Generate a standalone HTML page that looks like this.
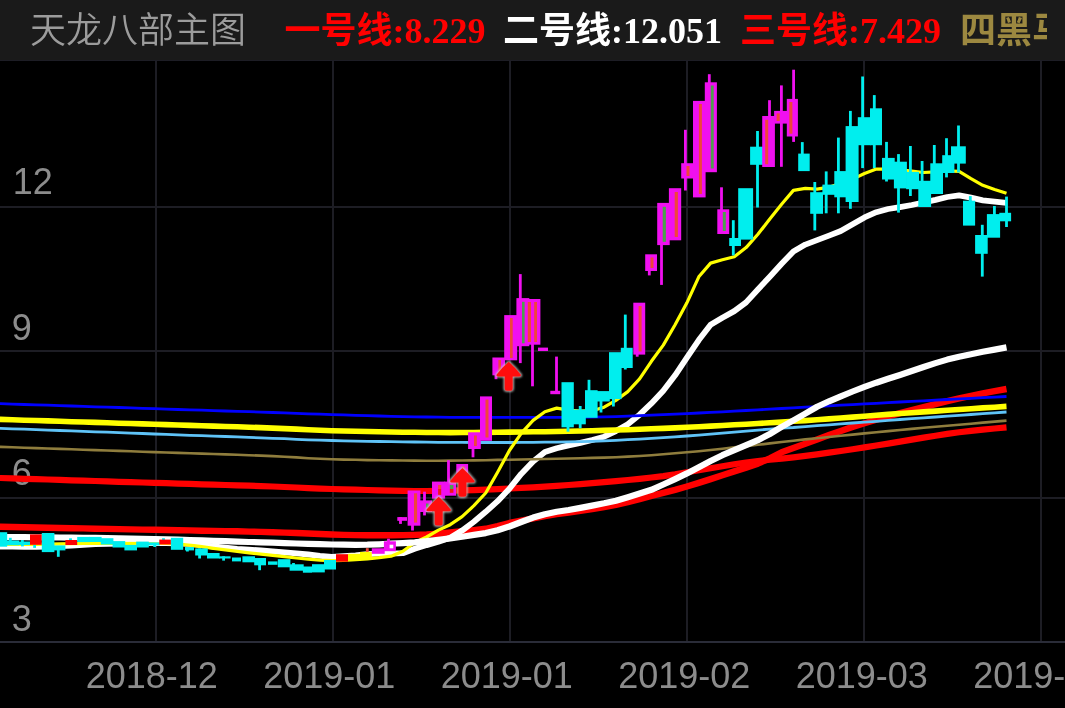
<!DOCTYPE html>
<html lang="zh-CN">
<head>
<meta charset="utf-8">
<title>天龙八部主图</title>
<style>
html,body{margin:0;padding:0;background:#000;}
body{width:1065px;height:708px;overflow:hidden;position:relative;font-family:"Liberation Sans","Noto Sans CJK SC",sans-serif;}
.chart{position:absolute;left:0;top:0;display:block;}
.ax{font-family:"Liberation Sans","Noto Sans CJK SC",sans-serif;font-size:36px;fill:#8c8c8c;}
.hdr{position:absolute;left:0;top:0;width:1065px;height:60px;background:#1a1a1a;border-bottom:1px solid #1d1d25;overflow:hidden;}
.hdr .clip{position:absolute;left:0;top:0;width:1047px;height:60px;overflow:hidden;}
.hdr span{position:absolute;top:1px;height:60px;line-height:60px;white-space:nowrap;font-size:36px;}
.t0{left:30px;top:1px !important;color:#9c9c9c;font-family:"Liberation Sans","Noto Sans CJK SC",sans-serif;font-weight:350;}
.tb{font-family:"Liberation Serif","Noto Sans CJK SC",serif;font-weight:bold;}
.t1{left:284.5px;color:#ff0000;}
.t2{left:503px;color:#ffffff;}
.t3{left:740px;color:#ff0000;}
.t4{left:960px;color:#9c8840;}
</style>
</head>
<body>
<svg class="chart" width="1065" height="708" viewBox="0 0 1065 708">
<defs><filter id="soft" x="-20%" y="-20%" width="140%" height="140%"><feGaussianBlur stdDeviation="0.7"/></filter><filter id="soft2" x="-20%" y="-20%" width="140%" height="140%"><feGaussianBlur stdDeviation="0.8"/></filter><clipPath id="plot"><rect x="0" y="61" width="1065" height="580"/></clipPath></defs>
<rect x="155" y="61" width="2" height="580" fill="#1d1d24"/>
<rect x="332" y="61" width="2" height="580" fill="#1d1d24"/>
<rect x="509" y="61" width="2" height="580" fill="#1d1d24"/>
<rect x="686" y="61" width="2" height="580" fill="#1d1d24"/>
<rect x="863" y="61" width="2" height="580" fill="#1d1d24"/>
<rect x="1040" y="61" width="2" height="580" fill="#1d1d24"/>
<rect x="0" y="206" width="1065" height="2" fill="#1d1d24"/>
<rect x="0" y="350" width="1065" height="2" fill="#1d1d24"/>
<rect x="0" y="497" width="1065" height="2" fill="#1d1d24"/>
<rect x="0" y="641" width="1065" height="2" fill="#2a2c38"/>
<text class="ax" x="12.8" y="194.0">12</text>
<text class="ax" x="11.7" y="339.8">9</text>
<text class="ax" x="11.7" y="485.3">6</text>
<text class="ax" x="11.7" y="630.6">3</text>
<g clip-path="url(#plot)">
<path d="M-11.3 526.6L0.5 526.8L12.3 527.0L24.2 527.3L36.0 527.5L47.8 527.7L59.7 528.0L71.5 528.2L83.3 528.4L95.2 528.7L107.0 528.9L118.9 529.1L130.7 529.4L142.5 529.6L154.4 529.8L166.2 530.0L178.0 530.2L189.9 530.4L201.7 530.7L213.5 530.9L225.4 531.1L237.2 531.3L249.0 531.6L260.9 531.9L272.7 532.2L284.5 532.6L296.4 533.0L308.2 533.5L320.0 534.0L331.9 534.5L343.7 534.9L355.6 535.1L367.4 535.2L379.2 535.3L391.1 535.2L402.9 535.1L414.7 534.9L426.6 534.5L438.4 533.7L450.2 532.5L462.1 531.3L473.9 530.1L485.7 528.8L497.6 526.1L509.4 523.0L521.2 520.7L533.1 518.4L544.9 516.1L556.7 514.2L568.6 512.6L580.4 510.9L592.2 509.1L604.1 507.1L615.9 504.9L627.8 502.2L639.6 499.1L651.4 495.8L663.3 492.8L675.1 489.8L686.9 486.5L698.8 482.9L710.6 479.1L722.4 475.2L734.3 471.4L746.1 467.6L757.9 463.6L769.8 458.3L781.6 452.3L793.4 448.0L805.3 443.8L817.1 439.4L829.0 435.1L840.8 430.9L852.6 426.9L864.5 423.2L876.3 419.7L888.1 416.4L900.0 413.2L911.8 410.1L923.6 407.1L935.5 404.1L947.3 401.2L959.1 398.4L971.0 395.8L982.8 393.4L994.6 391.2L1006.5 389.0" fill="none" stroke="#ff0000" stroke-width="6.4" stroke-linejoin="round" stroke-linecap="butt"/>
<path d="M-11.3 477.6L0.5 478.0L12.3 478.4L24.2 478.8L36.0 479.1L47.8 479.5L59.7 479.9L71.5 480.3L83.3 480.6L95.2 481.0L107.0 481.4L118.9 481.8L130.7 482.1L142.5 482.5L154.4 482.9L166.2 483.2L178.0 483.6L189.9 483.9L201.7 484.3L213.5 484.6L225.4 485.0L237.2 485.4L249.0 485.7L260.9 486.1L272.7 486.5L284.5 487.0L296.4 487.5L308.2 488.1L320.0 488.6L331.9 489.0L343.7 489.3L355.6 489.7L367.4 490.0L379.2 490.3L391.1 490.6L402.9 490.8L414.7 491.0L426.6 491.0L438.4 490.9L450.2 490.7L462.1 490.4L473.9 490.1L485.7 489.6L497.6 489.1L509.4 488.5L521.2 487.9L533.1 487.3L544.9 486.6L556.7 485.8L568.6 485.0L580.4 484.1L592.2 483.1L604.1 482.2L615.9 481.1L627.8 480.0L639.6 478.8L651.4 477.5L663.3 476.1L675.1 474.3L686.9 472.2L698.8 470.2L710.6 468.2L722.4 466.3L734.3 464.3L746.1 462.5L757.9 461.0L769.8 459.7L781.6 458.6L793.4 457.3L805.3 455.8L817.1 454.3L829.0 452.6L840.8 451.0L852.6 449.2L864.5 447.4L876.3 445.5L888.1 443.6L900.0 441.6L911.8 439.6L923.6 437.6L935.5 435.7L947.3 433.9L959.1 432.3L971.0 430.9L982.8 429.6L994.6 428.5L1006.5 427.4" fill="none" stroke="#ff0000" stroke-width="6.2" stroke-linejoin="round" stroke-linecap="butt"/>
<path d="M-11.3 546.7L0.5 546.7L12.3 546.7L24.2 546.8L36.0 546.8L47.8 546.7L59.7 546.2L71.5 545.6L83.3 544.9L95.2 544.2L107.0 543.8L118.9 543.5L130.7 543.3L142.5 543.1L154.4 543.0L166.2 543.1L178.0 543.3L189.9 543.9L201.7 545.2L213.5 546.5L225.4 547.7L237.2 548.8L249.0 549.6L260.9 550.5L272.7 551.4L284.5 552.4L296.4 553.4L308.2 554.5L320.0 555.8L331.9 556.8L343.7 556.1L355.6 555.3L367.4 554.2L379.2 553.6L391.1 553.6L402.9 553.2L414.7 548.8L426.6 545.1L438.4 541.8L450.2 537.8L462.1 530.6L473.9 521.7L485.7 511.8L497.6 501.2L509.4 488.7L521.2 473.9L533.1 461.4L544.9 452.0L556.7 448.3L568.6 445.4L580.4 442.8L592.2 440.0L604.1 436.7L615.9 431.1L627.8 424.3L639.6 414.7L651.4 403.4L663.3 390.8L675.1 375.3L686.9 357.7L698.8 340.1L710.6 324.7L722.4 317.7L734.3 311.1L746.1 302.4L757.9 289.5L769.8 276.7L781.6 263.8L793.4 251.5L805.3 244.6L817.1 240.1L829.0 235.6L840.8 231.0L852.6 224.3L864.5 217.4L876.3 212.2L888.1 209.0L900.0 207.2L911.8 205.0L923.6 202.5L935.5 199.9L947.3 197.0L959.1 195.3L971.0 197.7L982.8 200.3L994.6 201.6L1006.5 202.8" fill="none" stroke="#ffffff" stroke-width="5.8" stroke-linejoin="round" stroke-linecap="butt"/>
<path d="M-11.3 446.5L0.5 446.9L12.3 447.3L24.2 447.7L36.0 448.1L47.8 448.5L59.7 448.9L71.5 449.3L83.3 449.7L95.2 450.1L107.0 450.5L118.9 450.9L130.7 451.3L142.5 451.7L154.4 452.1L166.2 452.5L178.0 452.9L189.9 453.2L201.7 453.6L213.5 454.0L225.4 454.4L237.2 454.8L249.0 455.2L260.9 455.6L272.7 456.1L284.5 456.7L296.4 457.4L308.2 458.2L320.0 458.8L331.9 459.3L343.7 459.6L355.6 459.8L367.4 460.1L379.2 460.2L391.1 460.4L402.9 460.5L414.7 460.6L426.6 460.7L438.4 460.7L450.2 460.6L462.1 460.5L473.9 460.4L485.7 460.2L497.6 459.9L509.4 459.7L521.2 459.5L533.1 459.2L544.9 459.0L556.7 458.8L568.6 458.5L580.4 458.3L592.2 457.9L604.1 457.6L615.9 457.2L627.8 456.6L639.6 456.0L651.4 455.2L663.3 454.3L675.1 453.3L686.9 452.3L698.8 451.2L710.6 450.0L722.4 448.7L734.3 447.4L746.1 446.1L757.9 444.8L769.8 443.4L781.6 442.0L793.4 440.7L805.3 439.4L817.1 438.2L829.0 437.0L840.8 435.8L852.6 434.6L864.5 433.4L876.3 432.3L888.1 431.1L900.0 430.0L911.8 428.9L923.6 427.8L935.5 426.8L947.3 425.7L959.1 424.7L971.0 423.7L982.8 422.6L994.6 421.6L1006.5 420.6" fill="none" stroke="#8f7d3d" stroke-width="2.6" stroke-linejoin="round" stroke-linecap="butt"/>
<path d="M-11.3 427.9L0.5 428.3L12.3 428.8L24.2 429.2L36.0 429.6L47.8 430.1L59.7 430.5L71.5 430.9L83.3 431.4L95.2 431.8L107.0 432.2L118.9 432.7L130.7 433.1L142.5 433.5L154.4 434.0L166.2 434.4L178.0 434.8L189.9 435.3L201.7 435.7L213.5 436.1L225.4 436.5L237.2 436.9L249.0 437.4L260.9 437.8L272.7 438.3L284.5 438.7L296.4 439.3L308.2 439.8L320.0 440.2L331.9 440.5L343.7 440.8L355.6 441.1L367.4 441.3L379.2 441.5L391.1 441.7L402.9 441.9L414.7 442.0L426.6 442.2L438.4 442.3L450.2 442.4L462.1 442.4L473.9 442.5L485.7 442.5L497.6 442.5L509.4 442.5L521.2 442.4L533.1 442.3L544.9 442.2L556.7 442.1L568.6 441.9L580.4 441.6L592.2 441.3L604.1 440.8L615.9 440.3L627.8 439.7L639.6 439.1L651.4 438.4L663.3 437.6L675.1 436.8L686.9 436.0L698.8 435.1L710.6 434.2L722.4 433.2L734.3 432.2L746.1 431.1L757.9 430.1L769.8 429.1L781.6 428.1L793.4 427.5L805.3 426.6L817.1 425.7L829.0 424.8L840.8 423.9L852.6 423.0L864.5 422.1L876.3 421.3L888.1 420.4L900.0 419.5L911.8 418.6L923.6 417.8L935.5 417.0L947.3 416.1L959.1 415.3L971.0 414.5L982.8 413.6L994.6 412.8L1006.5 412.0" fill="none" stroke="#5fc3f7" stroke-width="2.8" stroke-linejoin="round" stroke-linecap="butt"/>
<path d="M-11.3 419.0L0.5 419.4L12.3 419.8L24.2 420.2L36.0 420.5L47.8 420.9L59.7 421.3L71.5 421.7L83.3 422.0L95.2 422.4L107.0 422.8L118.9 423.2L130.7 423.5L142.5 423.9L154.4 424.3L166.2 424.6L178.0 425.0L189.9 425.4L201.7 425.7L213.5 426.1L225.4 426.5L237.2 426.8L249.0 427.2L260.9 427.6L272.7 428.1L284.5 428.6L296.4 429.1L308.2 429.8L320.0 430.3L331.9 430.7L343.7 431.0L355.6 431.3L367.4 431.5L379.2 431.8L391.1 432.0L402.9 432.2L414.7 432.3L426.6 432.5L438.4 432.5L450.2 432.6L462.1 432.5L473.9 432.5L485.7 432.4L497.6 432.3L509.4 432.1L521.2 432.0L533.1 431.8L544.9 431.7L556.7 431.5L568.6 431.3L580.4 431.0L592.2 430.7L604.1 430.4L615.9 430.0L627.8 429.7L639.6 429.3L651.4 428.8L663.3 428.4L675.1 427.9L686.9 427.3L698.8 426.7L710.6 426.1L722.4 425.5L734.3 424.8L746.1 424.2L757.9 423.5L769.8 422.8L781.6 422.1L793.4 421.3L805.3 420.6L817.1 419.7L829.0 418.9L840.8 418.0L852.6 417.1L864.5 416.2L876.3 415.2L888.1 414.4L900.0 413.5L911.8 412.7L923.6 411.9L935.5 411.1L947.3 410.3L959.1 409.5L971.0 408.7L982.8 407.9L994.6 407.2L1006.5 406.4" fill="none" stroke="#ffff00" stroke-width="5.6" stroke-linejoin="round" stroke-linecap="butt"/>
<path d="M-11.3 403.3L0.5 403.7L12.3 404.1L24.2 404.5L36.0 404.9L47.8 405.2L59.7 405.6L71.5 406.0L83.3 406.4L95.2 406.8L107.0 407.2L118.9 407.5L130.7 407.9L142.5 408.3L154.4 408.7L166.2 409.1L178.0 409.5L189.9 409.8L201.7 410.2L213.5 410.6L225.4 411.0L237.2 411.4L249.0 411.7L260.9 412.1L272.7 412.5L284.5 412.9L296.4 413.3L308.2 413.8L320.0 414.2L331.9 414.6L343.7 414.9L355.6 415.3L367.4 415.6L379.2 416.0L391.1 416.3L402.9 416.6L414.7 416.8L426.6 417.0L438.4 417.2L450.2 417.3L462.1 417.4L473.9 417.4L485.7 417.4L497.6 417.4L509.4 417.4L521.2 417.4L533.1 417.4L544.9 417.4L556.7 417.4L568.6 417.4L580.4 417.3L592.2 417.2L604.1 416.9L615.9 416.6L627.8 416.2L639.6 415.7L651.4 415.2L663.3 414.7L675.1 414.2L686.9 413.6L698.8 413.0L710.6 412.4L722.4 411.8L734.3 411.1L746.1 410.5L757.9 409.8L769.8 409.2L781.6 408.5L793.4 407.9L805.3 407.2L817.1 406.6L829.0 405.9L840.8 405.2L852.6 404.6L864.5 403.9L876.3 403.3L888.1 402.6L900.0 402.0L911.8 401.4L923.6 400.8L935.5 400.1L947.3 399.5L959.1 398.9L971.0 398.3L982.8 397.7L994.6 397.1L1006.5 396.5" fill="none" stroke="#0000ff" stroke-width="2.8" stroke-linejoin="round" stroke-linecap="butt"/>
<path d="M-11.3 544.5L0.5 544.5L12.3 544.5L24.2 544.5L36.0 544.4L47.8 544.2L59.7 543.9L71.5 543.6L83.3 543.3L95.2 543.3L107.0 543.3L118.9 543.3L130.7 543.3L142.5 543.1L154.4 543.0L166.2 543.3L178.0 544.1L189.9 545.2L201.7 546.7L213.5 548.3L225.4 549.9L237.2 551.4L249.0 552.8L260.9 554.1L272.7 555.4L284.5 556.7L296.4 558.0L308.2 559.2L320.0 560.2L331.9 560.6L343.7 560.3L355.6 559.7L367.4 558.9L379.2 557.7L391.1 556.2L402.9 551.3L414.7 542.5L426.6 537.0L438.4 530.1L450.2 524.7L462.1 516.7L473.9 505.7L485.7 493.0L497.6 472.2L509.4 450.5L521.2 433.4L533.1 420.4L544.9 411.7L556.7 408.1L568.6 410.2L580.4 411.1L592.2 410.7L604.1 407.2L615.9 400.4L627.8 391.6L639.6 378.9L651.4 361.3L663.3 345.1L675.1 324.8L686.9 302.8L698.8 276.8L710.6 263.1L722.4 259.8L734.3 256.8L746.1 247.6L757.9 234.3L769.8 219.0L781.6 204.2L793.4 190.4L805.3 188.4L817.1 189.2L829.0 187.2L840.8 183.2L852.6 179.1L864.5 173.5L876.3 169.1L888.1 169.1L900.0 169.9L911.8 171.1L923.6 172.5L935.5 171.9L947.3 170.8L959.1 171.3L971.0 178.6L982.8 185.3L994.6 189.5L1006.5 193.2" fill="none" stroke="#ffff00" stroke-width="3.2" stroke-linejoin="round" stroke-linecap="butt"/>
<path d="M-11.3 536.9L0.5 537.0L12.3 537.1L24.2 537.2L36.0 537.3L47.8 537.4L59.7 537.5L71.5 537.7L83.3 537.8L95.2 537.9L107.0 538.1L118.9 538.3L130.7 538.5L142.5 538.8L154.4 539.1L166.2 539.4L178.0 539.7L189.9 540.1L201.7 540.4L213.5 540.8L225.4 541.2L237.2 541.6L249.0 542.0L260.9 542.3L272.7 542.7L284.5 543.1L296.4 543.5L308.2 543.8L320.0 544.2L331.9 544.5L343.7 544.7L355.6 544.8L367.4 544.7L379.2 544.3L391.1 543.7L402.9 543.1L414.7 542.3L426.6 541.2L438.4 539.8L450.2 538.4L462.1 536.8L473.9 534.9L485.7 533.1L497.6 530.3L509.4 526.5L521.2 522.0L533.1 517.6L544.9 514.2L556.7 511.8L568.6 510.0L580.4 507.9L592.2 505.6L604.1 503.3L615.9 500.7L627.8 497.2L639.6 493.5L651.4 489.8L663.3 484.5L675.1 479.1L686.9 473.4L698.8 467.3L710.6 461.0L722.4 455.2L734.3 450.1L746.1 445.2L757.9 440.2L769.8 434.0L781.6 426.9L793.4 420.4L805.3 413.6L817.1 406.7L829.0 401.3L840.8 396.3L852.6 391.5L864.5 386.9L876.3 382.7L888.1 378.8L900.0 375.0L911.8 371.0L923.6 367.0L935.5 363.1L947.3 359.6L959.1 356.7L971.0 354.2L982.8 351.8L994.6 349.6L1006.5 347.4" fill="none" stroke="#ffffff" stroke-width="6.2" stroke-linejoin="round" stroke-linecap="butt"/>
<rect x="-5.4" y="532.2" width="12.6" height="14.5" fill="#00eeee"/>
<rect x="8.9" y="537.8" width="2.8" height="3.2" fill="#00eeee"/>
<rect x="6.4" y="540.5" width="12.6" height="4.8" fill="#00eeee"/>
<rect x="21.0" y="540.0" width="2.8" height="6.4" fill="#00eeee"/>
<rect x="18.2" y="541.5" width="11.8" height="3.5" fill="#00eeee"/>
<rect x="33.2" y="544.8" width="2.8" height="3.1" fill="#00eeee"/>
<rect x="30.0" y="534.4" width="11.8" height="10.4" fill="#ff0000"/>
<rect x="41.8" y="533.0" width="12.6" height="19.1" fill="#00eeee"/>
<rect x="56.9" y="546.5" width="2.8" height="10.3" fill="#00eeee"/>
<rect x="53.6" y="545.4" width="11.8" height="5.0" fill="#00eeee"/>
<rect x="69.1" y="538.3" width="2.8" height="1.7" fill="#00eeee"/>
<rect x="65.4" y="540.0" width="11.8" height="5.0" fill="#ff0000"/>
<rect x="77.2" y="536.9" width="12.6" height="5.2" fill="#00eeee"/>
<rect x="89.0" y="536.9" width="12.6" height="5.1" fill="#00eeee"/>
<rect x="100.8" y="538.2" width="12.6" height="6.3" fill="#00eeee"/>
<rect x="112.6" y="541.1" width="12.6" height="6.4" fill="#00eeee"/>
<rect x="124.4" y="544.9" width="12.6" height="5.5" fill="#00eeee"/>
<rect x="136.2" y="541.6" width="12.6" height="5.9" fill="#00eeee"/>
<rect x="153.3" y="545.0" width="2.8" height="2.0" fill="#00eeee"/>
<rect x="148.0" y="542.4" width="11.8" height="3.0" fill="#00eeee"/>
<rect x="162.1" y="538.2" width="2.8" height="1.8" fill="#00eeee"/>
<rect x="159.3" y="539.6" width="11.6" height="4.9" fill="#ff0000"/>
<rect x="170.9" y="537.8" width="12.3" height="12.0" fill="#00eeee"/>
<rect x="186.0" y="547.0" width="2.8" height="4.5" fill="#00eeee"/>
<rect x="185.0" y="547.0" width="9.0" height="3.4" fill="#00eeee"/>
<rect x="198.2" y="548.4" width="2.8" height="10.1" fill="#00eeee"/>
<rect x="195.2" y="548.4" width="12.6" height="7.1" fill="#00eeee"/>
<rect x="207.0" y="553.0" width="12.6" height="5.5" fill="#00eeee"/>
<rect x="222.2" y="556.3" width="2.8" height="4.3" fill="#00eeee"/>
<rect x="219.0" y="556.3" width="11.6" height="2.2" fill="#00eeee"/>
<rect x="232.0" y="557.5" width="9.0" height="3.9" fill="#00eeee"/>
<rect x="242.4" y="556.3" width="12.6" height="6.0" fill="#00eeee"/>
<rect x="258.2" y="558.0" width="2.8" height="12.2" fill="#00eeee"/>
<rect x="254.2" y="558.0" width="11.8" height="7.3" fill="#00eeee"/>
<rect x="268.0" y="561.4" width="9.5" height="3.4" fill="#00eeee"/>
<rect x="277.8" y="559.2" width="12.6" height="8.1" fill="#00eeee"/>
<rect x="292.1" y="563.0" width="2.8" height="3.0" fill="#00eeee"/>
<rect x="289.6" y="564.3" width="14.1" height="6.4" fill="#00eeee"/>
<rect x="302.9" y="566.5" width="9.1" height="6.2" fill="#00eeee"/>
<rect x="312.0" y="564.2" width="12.8" height="8.2" fill="#00eeee"/>
<rect x="324.0" y="560.0" width="12.0" height="9.5" fill="#00eeee"/>
<rect x="336.0" y="554.2" width="12.0" height="7.5" fill="#ff0000"/>
<rect x="348.0" y="553.8" width="12.8" height="6.8" fill="#ffff00"/>
<rect x="365.9" y="548.2" width="2.8" height="3.8" fill="#f0453a"/>
<rect x="360.0" y="551.9" width="11.8" height="7.9" fill="#ffff00"/>
<rect x="371.8" y="548.3" width="12.9" height="5.5" fill="#f010f0"/>
<rect x="387.1" y="538.7" width="2.8" height="3.3" fill="#f010f0"/>
<rect x="383.9" y="541.3" width="12.0" height="9.9" fill="#f010f0"/>
<rect x="389.6" y="544.7" width="3.7" height="3.6" fill="#ffffff"/>
<rect x="399.1" y="517.1" width="2.8" height="6.8" fill="#f010f0"/>
<rect x="397.3" y="517.1" width="9.7" height="3.7" fill="#f010f0"/>
<rect x="411.1" y="525.0" width="2.8" height="5.5" fill="#f010f0"/>
<rect x="407.6" y="490.5" width="12.8" height="35.2" fill="#f010f0"/>
<rect x="414.0" y="493.3" width="3.1" height="29.3" fill="#f0453a"/>
<rect x="423.1" y="491.7" width="2.8" height="23.7" fill="#f010f0"/>
<rect x="419.6" y="500.4" width="12.4" height="11.6" fill="#f010f0"/>
<rect x="432.0" y="481.6" width="13.1" height="17.0" fill="#f010f0"/>
<rect x="438.1" y="485.0" width="3.1" height="4.0" fill="#f0453a"/>
<rect x="447.1" y="460.2" width="2.8" height="22.8" fill="#f010f0"/>
<rect x="444.3" y="481.6" width="11.7" height="14.1" fill="#f010f0"/>
<rect x="449.8" y="485.0" width="3.6" height="4.0" fill="#4ca04c"/>
<rect x="456.3" y="464.0" width="11.8" height="10.0" fill="#f010f0"/>
<rect x="461.9" y="466.5" width="2.8" height="4.5" fill="#f0453a"/>
<rect x="471.6" y="448.0" width="2.8" height="9.3" fill="#f010f0"/>
<rect x="468.1" y="432.3" width="12.7" height="16.7" fill="#f010f0"/>
<rect x="474.0" y="435.5" width="2.8" height="10.5" fill="#f0453a"/>
<rect x="480.0" y="396.4" width="12.0" height="44.4" fill="#f010f0"/>
<rect x="485.5" y="399.5" width="3.0" height="38.0" fill="#f0453a"/>
<rect x="494.6" y="374.0" width="2.8" height="5.2" fill="#f010f0"/>
<rect x="492.4" y="357.5" width="12.6" height="17.8" fill="#f010f0"/>
<rect x="498.4" y="360.0" width="2.6" height="12.5" fill="#f0453a"/>
<rect x="504.2" y="315.1" width="13.0" height="45.2" fill="#f010f0"/>
<rect x="510.0" y="318.0" width="2.7" height="40.0" fill="#f0453a"/>
<rect x="518.9" y="274.1" width="2.8" height="89.0" fill="#f010f0"/>
<rect x="516.4" y="298.1" width="12.9" height="48.1" fill="#f010f0"/>
<rect x="522.0" y="301.8" width="2.6" height="41.5" fill="#4ca04c"/>
<rect x="531.1" y="344.0" width="2.8" height="42.3" fill="#f010f0"/>
<rect x="528.5" y="299.0" width="11.9" height="45.7" fill="#f010f0"/>
<rect x="534.2" y="302.0" width="2.8" height="40.0" fill="#f0453a"/>
<rect x="538.0" y="347.6" width="10.0" height="3.4" fill="#f010f0"/>
<rect x="555.1" y="356.6" width="2.8" height="34.8" fill="#f010f0"/>
<rect x="550.3" y="390.8" width="9.9" height="3.4" fill="#f010f0"/>
<rect x="566.6" y="427.0" width="2.8" height="4.7" fill="#00eeee"/>
<rect x="561.5" y="382.2" width="12.3" height="45.1" fill="#00eeee"/>
<rect x="578.8" y="406.0" width="2.8" height="22.2" fill="#00eeee"/>
<rect x="573.0" y="409.5" width="12.8" height="14.8" fill="#00eeee"/>
<rect x="587.6" y="379.8" width="2.8" height="11.2" fill="#00eeee"/>
<rect x="585.0" y="390.2" width="12.6" height="27.6" fill="#00eeee"/>
<rect x="599.6" y="401.0" width="2.8" height="11.5" fill="#00eeee"/>
<rect x="596.8" y="391.1" width="13.0" height="10.4" fill="#00eeee"/>
<rect x="612.0" y="399.0" width="2.8" height="7.5" fill="#00eeee"/>
<rect x="609.0" y="352.2" width="12.6" height="46.9" fill="#00eeee"/>
<rect x="623.9" y="314.6" width="2.8" height="54.9" fill="#00eeee"/>
<rect x="620.8" y="347.8" width="11.9" height="20.2" fill="#00eeee"/>
<rect x="635.8" y="354.0" width="2.8" height="2.7" fill="#f010f0"/>
<rect x="633.3" y="302.7" width="11.9" height="51.9" fill="#f010f0"/>
<rect x="638.6" y="306.0" width="3.0" height="45.5" fill="#f0453a"/>
<rect x="647.9" y="270.0" width="2.8" height="5.4" fill="#f010f0"/>
<rect x="645.2" y="254.3" width="11.8" height="16.7" fill="#f010f0"/>
<rect x="650.5" y="257.5" width="3.0" height="10.5" fill="#f0453a"/>
<rect x="660.1" y="244.0" width="2.8" height="40.9" fill="#f010f0"/>
<rect x="657.2" y="202.9" width="12.5" height="42.2" fill="#f010f0"/>
<rect x="662.7" y="206.8" width="3.2" height="35.0" fill="#4ca04c"/>
<rect x="668.9" y="188.2" width="12.3" height="52.1" fill="#f010f0"/>
<rect x="674.7" y="192.0" width="3.2" height="45.0" fill="#f0453a"/>
<rect x="684.0" y="129.8" width="2.8" height="60.7" fill="#f010f0"/>
<rect x="681.2" y="163.2" width="12.8" height="15.3" fill="#f010f0"/>
<rect x="686.5" y="166.0" width="3.0" height="10.0" fill="#f0453a"/>
<rect x="693.0" y="100.9" width="12.6" height="96.5" fill="#f010f0"/>
<rect x="698.9" y="104.0" width="3.0" height="90.0" fill="#f0453a"/>
<rect x="707.9" y="74.2" width="2.8" height="8.8" fill="#f010f0"/>
<rect x="704.8" y="82.3" width="12.1" height="89.9" fill="#f010f0"/>
<rect x="710.8" y="85.5" width="2.9" height="83.0" fill="#4ca04c"/>
<rect x="720.1" y="187.3" width="2.8" height="22.7" fill="#f010f0"/>
<rect x="717.3" y="209.3" width="11.9" height="24.7" fill="#f010f0"/>
<rect x="722.8" y="212.0" width="3.0" height="19.0" fill="#4ca04c"/>
<rect x="731.9" y="220.2" width="2.8" height="35.2" fill="#00eeee"/>
<rect x="729.2" y="238.0" width="11.8" height="8.0" fill="#00eeee"/>
<rect x="738.2" y="188.2" width="14.9" height="51.4" fill="#00eeee"/>
<rect x="756.1" y="131.0" width="2.8" height="76.5" fill="#00eeee"/>
<rect x="750.1" y="146.7" width="14.8" height="18.1" fill="#00eeee"/>
<rect x="768.1" y="100.2" width="2.8" height="16.8" fill="#f010f0"/>
<rect x="762.2" y="116.0" width="12.7" height="51.0" fill="#f010f0"/>
<rect x="765.2" y="119.8" width="3.0" height="44.5" fill="#f0453a"/>
<rect x="780.0" y="85.4" width="2.8" height="81.4" fill="#f010f0"/>
<rect x="774.1" y="110.9" width="13.5" height="12.7" fill="#f010f0"/>
<rect x="776.6" y="113.4" width="3.1" height="7.6" fill="#f0453a"/>
<rect x="792.2" y="69.7" width="2.8" height="72.2" fill="#f010f0"/>
<rect x="786.8" y="98.9" width="11.1" height="37.6" fill="#f010f0"/>
<rect x="789.3" y="102.0" width="3.1" height="31.7" fill="#f0453a"/>
<rect x="800.9" y="142.1" width="2.8" height="11.9" fill="#00eeee"/>
<rect x="798.2" y="153.6" width="11.5" height="17.5" fill="#00eeee"/>
<rect x="813.4" y="182.0" width="2.8" height="48.4" fill="#00eeee"/>
<rect x="810.2" y="192.2" width="12.8" height="21.6" fill="#00eeee"/>
<rect x="824.8" y="171.4" width="2.8" height="41.9" fill="#00eeee"/>
<rect x="822.4" y="184.6" width="12.7" height="10.2" fill="#00eeee"/>
<rect x="837.0" y="137.6" width="2.8" height="75.7" fill="#00eeee"/>
<rect x="834.3" y="171.1" width="12.5" height="26.2" fill="#00eeee"/>
<rect x="849.0" y="110.9" width="2.8" height="97.9" fill="#00eeee"/>
<rect x="845.6" y="126.1" width="13.0" height="75.9" fill="#00eeee"/>
<rect x="861.2" y="76.5" width="2.8" height="91.6" fill="#00eeee"/>
<rect x="857.8" y="117.2" width="13.0" height="28.0" fill="#00eeee"/>
<rect x="872.9" y="95.1" width="2.8" height="73.0" fill="#00eeee"/>
<rect x="870.0" y="108.3" width="12.0" height="36.9" fill="#00eeee"/>
<rect x="885.1" y="141.9" width="2.8" height="39.6" fill="#00eeee"/>
<rect x="882.0" y="157.9" width="12.7" height="21.6" fill="#00eeee"/>
<rect x="897.1" y="154.1" width="2.8" height="58.5" fill="#00eeee"/>
<rect x="893.9" y="161.7" width="13.0" height="26.7" fill="#00eeee"/>
<rect x="909.0" y="146.0" width="2.8" height="50.0" fill="#00eeee"/>
<rect x="906.1" y="171.9" width="13.0" height="17.3" fill="#00eeee"/>
<rect x="920.7" y="161.0" width="2.8" height="20.0" fill="#00eeee"/>
<rect x="918.3" y="180.8" width="12.8" height="26.2" fill="#00eeee"/>
<rect x="932.9" y="145.0" width="2.8" height="19.0" fill="#00eeee"/>
<rect x="930.3" y="163.3" width="12.7" height="30.7" fill="#00eeee"/>
<rect x="945.1" y="138.2" width="2.8" height="39.2" fill="#00eeee"/>
<rect x="942.2" y="155.2" width="12.2" height="17.8" fill="#00eeee"/>
<rect x="957.1" y="125.5" width="2.8" height="47.0" fill="#00eeee"/>
<rect x="951.0" y="146.3" width="14.8" height="17.3" fill="#00eeee"/>
<rect x="968.9" y="196.1" width="2.8" height="4.9" fill="#00eeee"/>
<rect x="963.0" y="200.7" width="12.1" height="24.9" fill="#00eeee"/>
<rect x="980.9" y="224.8" width="2.8" height="51.8" fill="#00eeee"/>
<rect x="975.1" y="235.0" width="12.6" height="18.8" fill="#00eeee"/>
<rect x="993.0" y="206.0" width="2.8" height="9.0" fill="#00eeee"/>
<rect x="986.9" y="214.1" width="13.2" height="23.6" fill="#00eeee"/>
<rect x="1005.1" y="196.6" width="2.8" height="30.4" fill="#00eeee"/>
<rect x="999.3" y="212.8" width="11.8" height="8.5" fill="#00eeee"/>
<rect x="438.1" y="489.0" width="3.1" height="6.0" fill="#f21515"/>
<rect x="449.8" y="489.0" width="3.6" height="3.8" fill="#f21515"/>
<rect x="527.8" y="302.0" width="3.2" height="40.0" fill="#f0453a"/>
<rect x="426.0" y="503.5" width="2.6" height="4.0" fill="#4ca04c"/>
<path d="M438.7 496.7Q445.4 502.5 450.9 509.7Q451.3 511.3 449.3 511.3L442.7 511.3L442.7 523.4Q442.7 525.6 440.5 525.6L436.9 525.6Q434.7 525.6 434.7 523.4L434.7 511.3L428.1 511.3Q426.1 511.3 426.5 509.7Q432.0 502.5 438.7 496.7Z" fill="#ff2020" stroke="#d0dada" stroke-opacity="0.85" stroke-width="2.2" stroke-linejoin="round" filter="url(#soft2)"/>
<path d="M438.7 496.7Q445.4 502.5 450.9 509.7Q451.3 511.3 449.3 511.3L442.7 511.3L442.7 523.4Q442.7 525.6 440.5 525.6L436.9 525.6Q434.7 525.6 434.7 523.4L434.7 511.3L428.1 511.3Q426.1 511.3 426.5 509.7Q432.0 502.5 438.7 496.7Z" fill="#ff0c0c" filter="url(#soft)"/>
<path d="M462.4 467.9Q469.1 473.7 474.6 480.9Q475.0 482.5 473.0 482.5L466.4 482.5L466.4 494.6Q466.4 496.8 464.2 496.8L460.6 496.8Q458.4 496.8 458.4 494.6L458.4 482.5L451.8 482.5Q449.8 482.5 450.2 480.9Q455.7 473.7 462.4 467.9Z" fill="#ff2020" stroke="#d0dada" stroke-opacity="0.85" stroke-width="2.2" stroke-linejoin="round" filter="url(#soft2)"/>
<path d="M462.4 467.9Q469.1 473.7 474.6 480.9Q475.0 482.5 473.0 482.5L466.4 482.5L466.4 494.6Q466.4 496.8 464.2 496.8L460.6 496.8Q458.4 496.8 458.4 494.6L458.4 482.5L451.8 482.5Q449.8 482.5 450.2 480.9Q455.7 473.7 462.4 467.9Z" fill="#ff0c0c" filter="url(#soft)"/>
<path d="M508.7 361.8Q515.4 367.6 520.9 374.8Q521.3 376.4 519.3 376.4L512.7 376.4L512.7 388.5Q512.7 390.7 510.5 390.7L506.9 390.7Q504.7 390.7 504.7 388.5L504.7 376.4L498.1 376.4Q496.1 376.4 496.5 374.8Q502.0 367.6 508.7 361.8Z" fill="#ff2020" stroke="#d0dada" stroke-opacity="0.85" stroke-width="2.2" stroke-linejoin="round" filter="url(#soft2)"/>
<path d="M508.7 361.8Q515.4 367.6 520.9 374.8Q521.3 376.4 519.3 376.4L512.7 376.4L512.7 388.5Q512.7 390.7 510.5 390.7L506.9 390.7Q504.7 390.7 504.7 388.5L504.7 376.4L498.1 376.4Q496.1 376.4 496.5 374.8Q502.0 367.6 508.7 361.8Z" fill="#ff0c0c" filter="url(#soft)"/>
</g>
<text class="ax" x="85.7" y="688">2018-12</text>
<text class="ax" x="263.2" y="688">2019-01</text>
<text class="ax" x="440.7" y="688">2019-01</text>
<text class="ax" x="618.2" y="688">2019-02</text>
<text class="ax" x="795.7" y="688">2019-03</text>
<text class="ax" x="973.2" y="688">2019-04</text>
</svg>
<div class="hdr"><div class="clip">
<span class="t0">天龙八部主图</span>
<span class="tb t1">一号线:8.229</span>
<span class="tb t2">二号线:12.051</span>
<span class="tb t3">三号线:7.429</span>
<span class="tb t4">四黑马:6.912</span>
</div></div>
</body>
</html>
